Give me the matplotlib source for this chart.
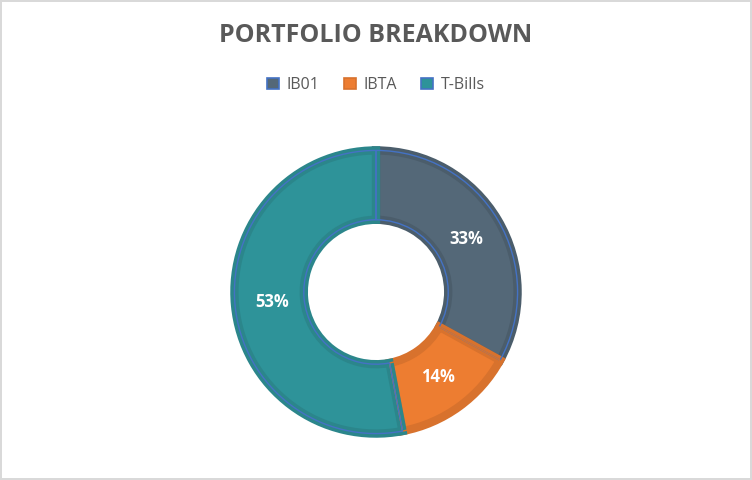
import matplotlib.pyplot as plt

labels = ['IB01', 'IBTA', 'T-Bills']
values = [33, 14, 53]
face_colors = ['#546878', '#ED7D31', '#2E9399']
edge_colors = ['#4B5D6B', '#D8722D', '#2B868B']
outline_colors = ['#4472C4', '#D8722D', '#4472C4']

plt.rcParams['font.family'] = ['Open Sans', 'DejaVu Sans']

fig = plt.figure(figsize=(7.52, 4.8), dpi=100)
fig.patch.set_facecolor('white')
fig.patch.set_edgecolor('#D9D9D9')
fig.patch.set_linewidth(1.5)

# pie axes: centre at (376, 292) px from top, radius 142 px
ax = fig.add_axes([(376 - 143) / 752, (188 - 143) / 480, 286 / 752, 286 / 480])

wedges, texts, autotexts = ax.pie(
    values, colors=face_colors, startangle=90, counterclock=False,
    radius=0.99, autopct='%1.0f%%', pctdistance=0.74,
    wedgeprops=dict(width=0.485, linewidth=0),
    textprops=dict(color='white', fontsize=12, fontweight='bold'))

for w, ec in zip(wedges, edge_colors):
    w.set_edgecolor(ec)
    w.set_linewidth(6)
    w.set_clip_path(w)

# thin outline
outline, _ = ax.pie(values, colors=['none'] * 3, startangle=90, counterclock=False,
                    radius=0.99, wedgeprops=dict(width=0.485, linewidth=1.0, fill=False))
for w, oc in zip(outline, outline_colors):
    w.set_edgecolor(oc)

ax.set_xlim(-1, 1)
ax.set_ylim(-1, 1)

fig.text(0.5, 1 - 36 / 480, 'PORTFOLIO BREAKDOWN',
         ha='center', va='center', fontsize=18, fontweight='bold', color='#595959')

handles = [plt.Rectangle((0, 0), 1, 1, facecolor=fc, edgecolor=oc, linewidth=1.2)
           for fc, oc in zip(face_colors, outline_colors)]
fig.legend(handles, labels, loc='center', bbox_to_anchor=(0.5, 1 - 85 / 480), ncol=3,
           frameon=False, fontsize=11.5, labelcolor='#595959', handlelength=0.75,
           handleheight=0.75, handletextpad=0.5, columnspacing=1.5)

fig.savefig('out.png', dpi=100)
